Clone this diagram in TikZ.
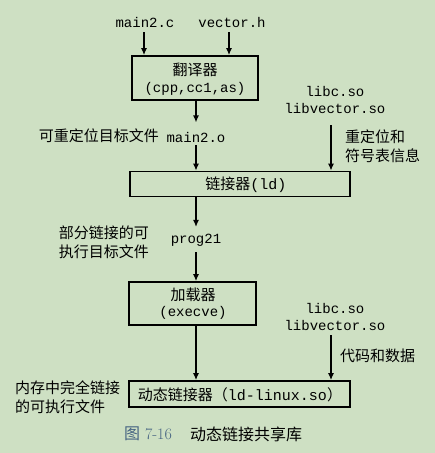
\documentclass[tikz,border=0pt]{standalone}
\usepackage{fontspec}
\setmonofont{Liberation Mono}
\newfontfamily\cjk{Noto Sans CJK SC}
\usetikzlibrary{arrows.meta}
\definecolor{bg}{RGB}{206,224,195}
\definecolor{capblue}{RGB}{70,100,130}
\tikzset{
  box/.style={draw=black, line width=1.8pt, inner sep=0pt},
  arr/.style={line width=1.2pt, -{Latex[length=7pt,width=6pt]}},
  mono/.style={font=\fontsize{14pt}{17pt}\selectfont\ttfamily, inner sep=0pt, align=center},
  zh/.style={font=\fontsize{15pt}{19pt}\selectfont\cjk, inner sep=0pt, align=left},
}
\begin{document}
\begin{tikzpicture}[x=1pt,y=-1pt]
\fill[bg] (0,0) rectangle (435,453);
\useasboundingbox (0,0) rectangle (435,453);

% inputs
\node[mono] (mainc) at (145,22) {main2.c};
\node[mono] (vech) at (232,22) {vector.h};
\coordinate (mainc1) at (144,32);
\coordinate (vech1) at (229,32);

% box 1
\node[box, minimum width=126pt, minimum height=44pt] (trans) at (195,78) {};
\node[zh, font=\fontsize{15pt}{17pt}\selectfont\cjk] (transT) at (195,70) {翻译器};
\node[mono] (transS) at (195,89) {(cpp,cc1,as)};
\draw[arr] (mainc1) -- (mainc1 |- trans.north);
\draw[arr] (vech1) -- (vech1 |- trans.north);

% main2.o
\node[mono] (maino) at (196,137) {main2.o};
\node[zh, anchor=east] (mainoL) at (159,136) {可重定位目标文件};
\draw[arr] (trans.south -| maino) -- ++(0,21.5) coordinate (mo1);

% libs 1
\node[mono] (libs1) at (335,100) {libc.so\\libvector.so};
\node[zh, anchor=west] (relL) at (345,146) {重定位和\\符号表信息};
\coordinate (lib1a) at (331,125);

% box 2
\node[box, minimum width=220pt, minimum height=25pt] (link) at (240,184) {};
\node[font=\fontsize{15pt}{17pt}\selectfont, inner sep=0pt] (linkT) at (246,185) {{\cjk 链接器}\texttt{(ld)}};
\coordinate (mo2) at (196,145);
\draw[arr] (mo2) -- (mo2 |- link.north);
\draw[arr] (lib1a) -- (lib1a |- link.north);

% prog21
\node[mono] (prog) at (196,240) {prog21};
\node[zh, anchor=east] (progL) at (149,242) {部分链接的可\\执行目标文件};
\draw[arr] (link.south -| prog) -- ++(0,29.5);
\coordinate (pg1) at (196,252);

% box 3
\node[box, minimum width=127pt, minimum height=43pt] (load) at (192.5,303.5) {};
\node[zh, font=\fontsize{15pt}{17pt}\selectfont\cjk] (loadT) at (193,295) {加载器};
\node[mono] (loadS) at (193,313) {(execve)};
\draw[arr] (pg1) -- (pg1 |- load.north);

% libs 2
\node[mono] (libs2) at (335,317) {libc.so\\libvector.so};
\node[zh, anchor=west] (codeL) at (340,356) {代码和数据};
\coordinate (lib2a) at (331,335);

% box 4
\node[box, minimum width=221pt, minimum height=26pt] (dyn) at (239.5,394) {};
\node[font=\fontsize{15pt}{17pt}\selectfont, inner sep=0pt] (dynT) at (240,395) {{\cjk 动态链接器（}\texttt{ld-linux.so}{\cjk ）}};
\draw[arr] (load.south -| prog) -- (prog |- dyn.north);
\draw[arr] (lib2a) -- (lib2a |- dyn.north);
\node[zh, anchor=west] (memL) at (15,397) {内存中完全链接\\的可执行文件};

% caption
\node[inner sep=0pt, anchor=west, text=capblue, font=\fontsize{16pt}{18pt}\selectfont] (capA) at (124,434) {{\cjk 图} 7-16};
\node[inner sep=0pt, anchor=west, font=\fontsize{16pt}{18pt}\selectfont\cjk] (capB) at (190,434) {动态链接共享库};
\end{tikzpicture}
\end{document}
